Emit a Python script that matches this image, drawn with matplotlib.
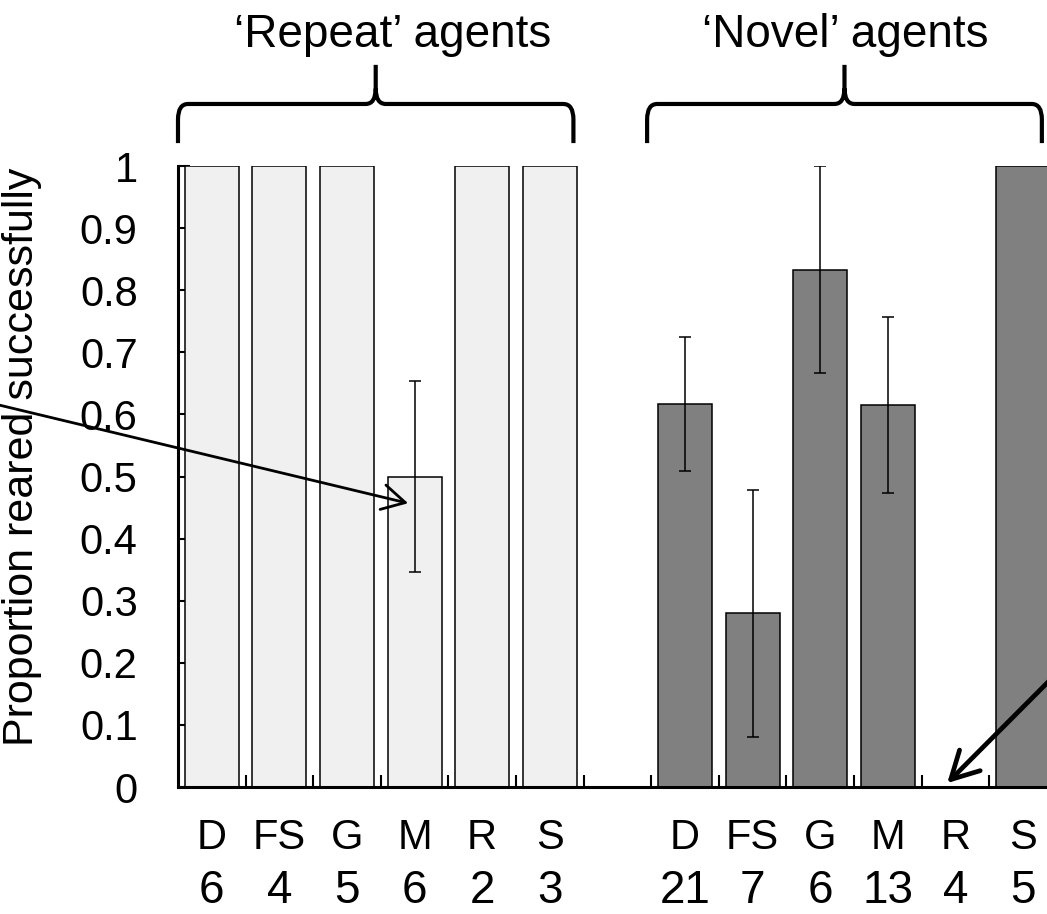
import numpy as np
from matplotlib import pyplot as plt
from matplotlib.path import Path
from matplotlib.patches import PathPatch

plt.rcParams['font.family'] = ['Liberation Sans', 'DejaVu Sans']

# data
categories = ['D', 'FS', 'G', 'M', 'R', 'S']
repeat_n = [6, 4, 5, 6, 2, 3]
novel_n = [21, 7, 6, 13, 4, 5]
repeat_prop = [1.0, 1.0, 1.0, 0.5, 1.0, 1.0]
repeat_err = [0, 0, 0, 0.154, 0, 0]
novel_prop = [0.617, 0.28, 0.833, 0.615, 0.0, 1.0]
novel_err = [0.108, 0.199, 0.167, 0.142, 0, 0]
y_ticks = [0, 0.1, 0.2, 0.3, 0.4, 0.5, 0.6, 0.7, 0.8, 0.9, 1]
y_ticklabels = ['0', '0.1', '0.2', '0.3', '0.4', '0.5', '0.6', '0.7', '0.8', '0.9', '1']
group_titles = ['\u2018Repeat\u2019 agents', '\u2018Novel\u2019 agents']
ylabel = 'Proportion reared successfully'

repeat_x = np.arange(len(categories))
novel_x = np.arange(len(categories)) + len(categories) + 1


def draw_brace(ax, x0, x1, y_leg, y_mid, y_top, rx=0.15, ry=0.025):
    xm = (x0 + x1) / 2
    verts = [(x0, y_leg), (x0, y_mid - ry), (x0, y_mid), (x0 + rx, y_mid),
             (xm - rx, y_mid), (xm, y_mid), (xm, y_mid + ry), (xm, y_top),
             (xm, y_mid + ry), (xm, y_mid), (xm + rx, y_mid),
             (x1 - rx, y_mid), (x1, y_mid), (x1, y_mid - ry), (x1, y_leg)]
    codes = [Path.MOVETO, Path.LINETO, Path.CURVE3, Path.CURVE3,
             Path.LINETO, Path.CURVE3, Path.CURVE3, Path.LINETO,
             Path.MOVETO, Path.CURVE3, Path.CURVE3,
             Path.LINETO, Path.CURVE3, Path.CURVE3, Path.LINETO]
    patch = PathPatch(Path(verts, codes), facecolor='none', edgecolor='black',
                      lw=3, clip_on=False, capstyle='butt', joinstyle='round')
    ax.add_patch(patch)


# figure
fig = plt.figure(figsize=(10.47, 9.14), dpi=100)
ax = fig.add_axes([0.170, 0.1389, 0.8393, 0.6794])

# bars
ax.bar(repeat_x, repeat_prop, width=0.8, color='#f0f0f0', edgecolor='black', linewidth=1.1, zorder=2)
ax.bar(novel_x, novel_prop, width=0.8, color='#808080', edgecolor='black', linewidth=1.1, zorder=2)

# error bars
for xs, ys, es in ((repeat_x, repeat_prop, repeat_err), (novel_x, novel_prop, novel_err)):
    m = np.array(es) > 0
    ax.errorbar(np.array(xs)[m], np.array(ys)[m], yerr=np.array(es)[m], fmt='none',
                ecolor='black', elinewidth=1.1, capsize=4.5, capthick=1.1, zorder=3)

# axes
ax.set_xlim(-0.5, 12.5)
ax.set_ylim(0, 1)
ax.spines['top'].set_visible(False)
ax.spines['right'].set_visible(False)
ax.spines['left'].set_linewidth(2.2)
ax.spines['bottom'].set_linewidth(2.2)

ax.set_yticks(y_ticks)
ax.set_yticklabels(y_ticklabels)
ax.tick_params(axis='y', direction='in', length=8.5, width=1.5, pad=29, labelsize=30)
ax.set_xticks(np.arange(0.5, 13, 1))
ax.set_xticklabels([])
ax.tick_params(axis='x', direction='in', length=8.5, width=1.5)

# category labels
trans = ax.get_xaxis_transform()
for xs, ns in ((repeat_x, repeat_n), (novel_x, novel_n)):
    for x, c, n in zip(xs, categories, ns):
        ax.text(x, -0.082, c, transform=trans, ha='center', va='center', fontsize=30)
        ax.text(x, -0.187, str(n), transform=trans, ha='center', va='baseline', fontsize=33)

# y label
ax.set_ylabel(ylabel, fontsize=31)
ax.yaxis.set_label_coords(-0.155, 0.531)

# braces and group titles
draw_brace(ax, -0.5, 5.35, 1.037, 1.10, 1.163)
draw_brace(ax, 6.44, 12.28, 1.037, 1.10, 1.163)
ax.text(2.68, 1.211, group_titles[0], ha='center', va='center', fontsize=33, clip_on=False)
ax.text(9.37, 1.211, group_titles[1], ha='center', va='center', fontsize=33, clip_on=False)

# arrows
ax.annotate('', xy=(2.905, 0.457), xytext=(-4.02, 0.638), annotation_clip=False,
            arrowprops=dict(arrowstyle='->,head_length=0.55,head_width=0.3', lw=2.0,
                            color='black', mutation_scale=30, shrinkA=0, shrinkB=0))
ax.annotate('', xy=(10.88, 0.0064), xytext=(13.14, 0.253), annotation_clip=False,
            arrowprops=dict(arrowstyle='->,head_length=0.65,head_width=0.35', lw=3.4,
                            color='black', mutation_scale=30, shrinkA=0, shrinkB=0))

fig.savefig('out.png', dpi=100)
